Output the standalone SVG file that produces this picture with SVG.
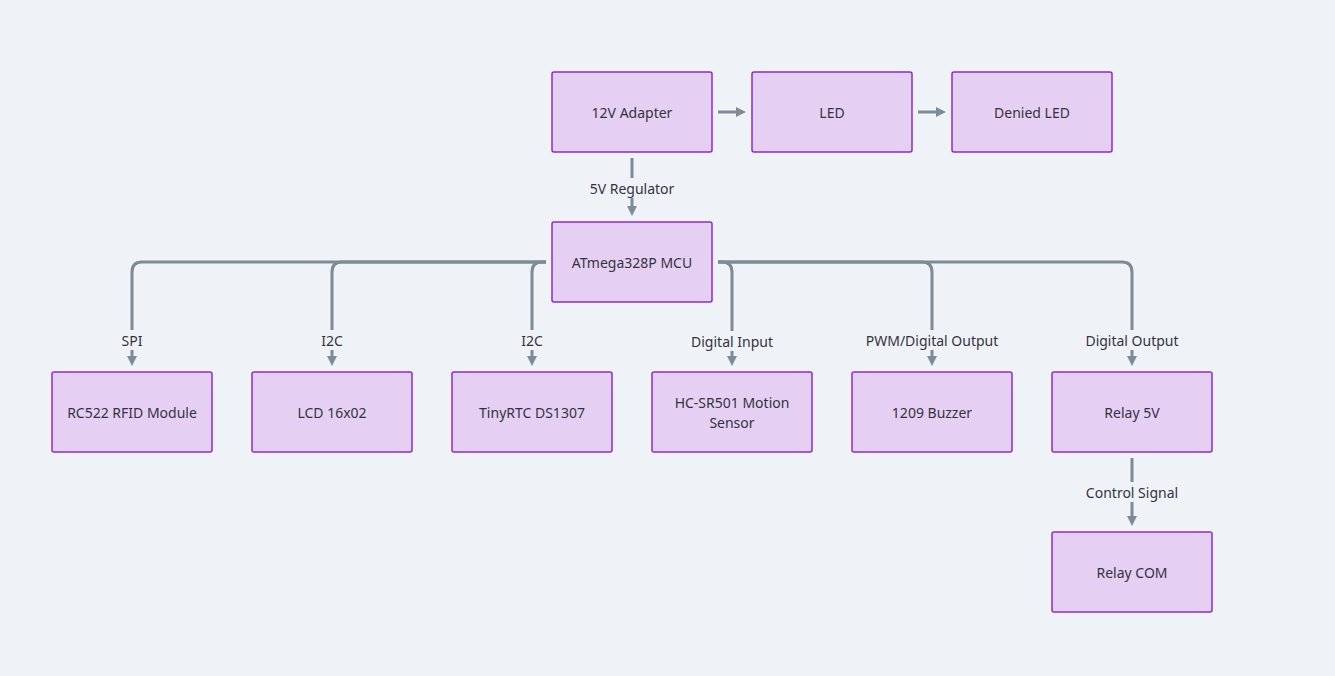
<svg xmlns="http://www.w3.org/2000/svg" width="1335" height="676" viewBox="0 0 1335 676">
<style>
.node rect{fill:#e5d0f4;stroke:#8a2bd0;stroke-width:1.5}
.node text{font-family:"Noto Sans","Liberation Sans",sans-serif;font-size:14px;fill:#333340;text-anchor:middle;dominant-baseline:central}
.edge{fill:none;stroke:#7d8b97;stroke-width:3}
.lbl rect{fill:#eff3f8}
.lbl text{font-family:"Noto Sans","Liberation Sans",sans-serif;font-size:14px;fill:#333340;text-anchor:middle;dominant-baseline:central}
</style>
<defs>
<marker id="ah" viewBox="0 0 10 10" markerUnits="userSpaceOnUse" markerWidth="10" markerHeight="10" refX="6" refY="5" orient="auto">
<path d="M0,0 L10,5 L0,10 z" fill="#7d8b97"/>
</marker>
</defs>
<rect width="1335" height="676" fill="#eff3f8"/>
<g id="connectors">
<path class="edge" d="M718,112 H742" marker-end="url(#ah)"/>
<path class="edge" d="M918,112 H942" marker-end="url(#ah)"/>
<path class="edge" d="M632,158 V212" marker-end="url(#ah)"/>
<path class="edge" d="M546,262 H142 Q132,262 132,272 V362" marker-end="url(#ah)"/>
<path class="edge" d="M546,262 H342 Q332,262 332,272 V362" marker-end="url(#ah)"/>
<path class="edge" d="M546,262 H542 Q532,262 532,272 V362" marker-end="url(#ah)"/>
<path class="edge" d="M718,262 H722 Q732,262 732,272 V362" marker-end="url(#ah)"/>
<path class="edge" d="M718,262 H922 Q932,262 932,272 V362" marker-end="url(#ah)"/>
<path class="edge" d="M718,262 H1122 Q1132,262 1132,272 V362" marker-end="url(#ah)"/>
<path class="edge" d="M1132,458 V522" marker-end="url(#ah)"/>
<g class="lbl"><rect x="588" y="178" width="88" height="20"/><text x="632" y="188">5V Regulator</text></g>
<g class="lbl"><rect x="118" y="330" width="28" height="20"/><text x="132" y="340">SPI</text></g>
<g class="lbl"><rect x="318" y="330" width="28" height="20"/><text x="332" y="340">I2C</text></g>
<g class="lbl"><rect x="518" y="330" width="28" height="20"/><text x="532" y="340">I2C</text></g>
<g class="lbl"><rect x="690" y="331" width="84" height="20"/><text x="732" y="341">Digital Input</text></g>
<g class="lbl"><rect x="866" y="330" width="132" height="20"/><text x="932" y="340">PWM/Digital Output</text></g>
<g class="lbl"><rect x="1084" y="330" width="96" height="20"/><text x="1132" y="340">Digital Output</text></g>
<g class="lbl"><rect x="1084" y="482" width="96" height="20"/><text x="1132" y="492">Control Signal</text></g>
</g>
<g id="n-adapter" class="node"><rect x="552" y="72" width="160" height="80" rx="2"/><text x="632" y="112">12V Adapter</text></g>
<g id="n-led" class="node"><rect x="752" y="72" width="160" height="80" rx="2"/><text x="832" y="112">LED</text></g>
<g id="n-denied" class="node"><rect x="952" y="72" width="160" height="80" rx="2"/><text x="1032" y="112">Denied LED</text></g>
<g id="n-mcu" class="node"><rect x="552" y="222" width="160" height="80" rx="2"/><text x="632" y="262">ATmega328P MCU</text></g>
<g id="n-rfid" class="node"><rect x="52" y="372" width="160" height="80" rx="2"/><text x="132" y="412">RC522 RFID Module</text></g>
<g id="n-lcd" class="node"><rect x="252" y="372" width="160" height="80" rx="2"/><text x="332" y="412">LCD 16x02</text></g>
<g id="n-rtc" class="node"><rect x="452" y="372" width="160" height="80" rx="2"/><text x="532" y="412">TinyRTC DS1307</text></g>
<g id="n-pir" class="node"><rect x="652" y="372" width="160" height="80" rx="2"/><text x="732" y="402">HC-SR501 Motion</text><text x="732" y="422">Sensor</text></g>
<g id="n-buzzer" class="node"><rect x="852" y="372" width="160" height="80" rx="2"/><text x="932" y="412">1209 Buzzer</text></g>
<g id="n-relay" class="node"><rect x="1052" y="372" width="160" height="80" rx="2"/><text x="1132" y="412">Relay 5V</text></g>
<g id="n-com" class="node"><rect x="1052" y="532" width="160" height="80" rx="2"/><text x="1132" y="572">Relay COM</text></g>
</svg>
